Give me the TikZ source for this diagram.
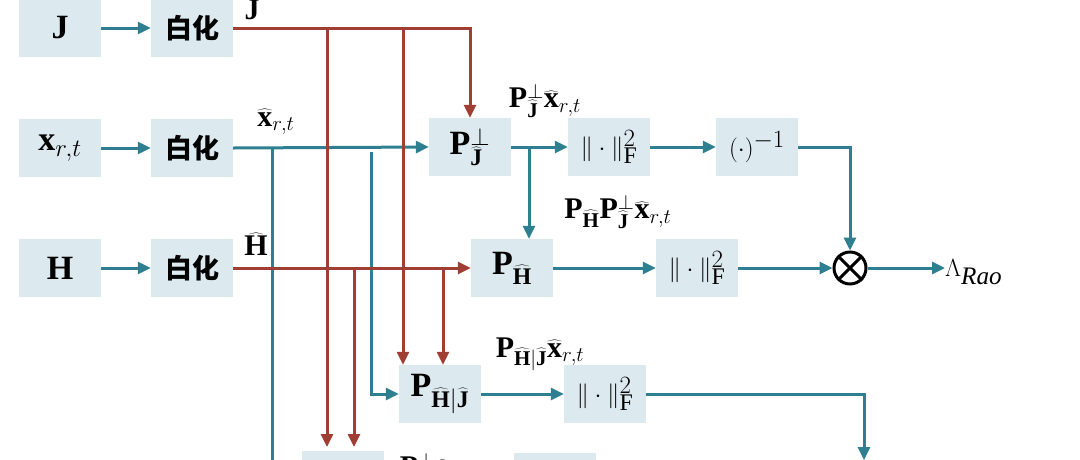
\documentclass[tikz,border=0pt]{standalone}
\usepackage{fontspec}
\setmainfont{Liberation Serif}
\newfontfamily\cjk{Noto Sans CJK SC}
\usetikzlibrary{arrows.meta}
\definecolor{boxc}{RGB}{220,234,240}
\definecolor{tealc}{RGB}{46,128,144}
\definecolor{redc}{RGB}{160,62,52}
\tikzset{
 blk/.style={fill=boxc,minimum width=82pt,minimum height=58pt,inner sep=0pt,font=\fontsize{34}{36}\selectfont},
 wh/.style={blk,font=\cjk\bfseries\fontsize{27}{29}\selectfont},
 tl/.style={draw=tealc,line width=3pt,-{Triangle[length=13pt,width=12pt]},color=tealc},
 rl/.style={draw=redc,line width=3pt,-{Triangle[length=13pt,width=12pt]},color=redc},
 tn/.style={draw=tealc,line width=3pt},
 lbl/.style={inner sep=0pt,font=\fontsize{30}{32}\selectfont}
}
\newcommand{\bJ}{\widehat{\mathbf{J}}}
\newcommand{\bH}{\widehat{\mathbf{H}}}
\newcommand{\bx}{\widehat{\mathbf{x}}}
\begin{document}
\begin{tikzpicture}[x=1pt,y=-1pt]
\useasboundingbox (0,0) rectangle (1080,459);
\clip (0,0) rectangle (1080,459);
\fill[white] (0,0) rectangle (1080,459);
% boxes
\node[blk] (J) at (60,28) {$\mathbf{J}$};
\node[wh] (w1) at (192,28) {白化};
\node[blk] (X) at (60,148) {$\mathbf{x}_{r,t}$};
\node[wh] (w2) at (192,148) {白化};
\node[blk] (H) at (60,268) {$\mathbf{H}$};
\node[wh] (w3) at (192,268) {白化};
\node[blk] (PJ) at (470,147) {$\mathbf{P}_{\bJ}^{\perp}$};
\node[blk] (N1) at (609,147) {$\|\cdot\|_{\mathrm{F}}^{2}$};
\node[blk] (INV) at (757,147) {$(\cdot)^{-1}$};
\node[blk] (PH) at (512,268) {$\mathbf{P}_{\bH}$};
\node[blk] (N2) at (697,268) {$\|\cdot\|_{\mathrm{F}}^{2}$};
\node[circle,draw=black,line width=3pt,minimum size=32pt,inner sep=0pt] (OT) at (850,268) {};
\draw[line width=3pt] (OT.north west)--(OT.south east) (OT.north east)--(OT.south west);
\node[lbl,anchor=west,font=\fontsize{36}{38}\selectfont] (L) at (945,272) {$\Lambda_{\mathit{Rao}}$};
\node[blk] (PHJ) at (440,394) {$\mathbf{P}_{\bH|\bJ}$};
\node[blk] (N3) at (605,394) {$\|\cdot\|_{\mathrm{F}}^{2}$};
\node[blk] (B1) at (343,480) {};
\node[blk] (B2) at (555,482) {};
% labels
\node[lbl] (lJ) at (252,10) {$\mathbf{J}$};
\node[lbl] (lX) at (276,122) {$\bx_{r,t}$};
\node[lbl] (lH) at (256,244) {$\bH$};
\node[lbl] (l1) at (545,101) {$\mathbf{P}_{\bJ}^{\perp}\bx_{r,t}$};
\node[lbl] (l2) at (618,212) {$\mathbf{P}_{\bH}\mathbf{P}_{\bJ}^{\perp}\bx_{r,t}$};
\node[lbl] (l3) at (540,354) {$\mathbf{P}_{\bH|\bJ}\bx_{r,t}$};
\node[lbl] (l4) at (436,470) {$\mathbf{P}_{\bH}^{\perp}\bx_{r,t}$};
% input arrows
\draw[tl] (J) -- (w1);
\draw[tl] (X) -- (w2);
\draw[tl] (H) -- (w3);
% coordinates
\coordinate (bot1) at (272,470);
\coordinate (bot2) at (327,447);
\coordinate (bot3) at (354,447);
\coordinate (bot4) at (864,460);
\coordinate (brJ) at (529,147);
\coordinate (brH) at (443,268);
\coordinate (brJ2) at (403,28);
% teal x line
\draw[tl] (w2.east) -- (PJ.west);
\draw[tn] (272,148) -- (bot1);
\draw[tl] (371,152) |- (PHJ.west);
% red J line
\draw[rl] (w1.east) -| (PJ.north);
\draw[rl] (327,28) -- (bot2);
\draw[rl] (brJ2) -- (brJ2|-PHJ.north);
% red H line
\draw[rl] (w3.east) -- (PH.west);
\draw[rl] (354,268) -- (bot3);
\draw[rl] (brH) -- (brH|-PHJ.north);
% right part
\draw[tl] (PJ.east) -- (N1.west);
\draw[tl] (brJ) -- (brJ|-PH.north);
\draw[tl] (N1) -- (INV);
\draw[tl] (INV.east) -| (OT.north);
\draw[tl] (PH) -- (N2);
\draw[tl] (N2) -- (OT);
\draw[tl] (OT.east) -- (L.west|-OT.east);
\draw[tl] (PHJ) -- (N3);
\draw[tl] (N3.east) -| (bot4);
\end{tikzpicture}
\end{document}
